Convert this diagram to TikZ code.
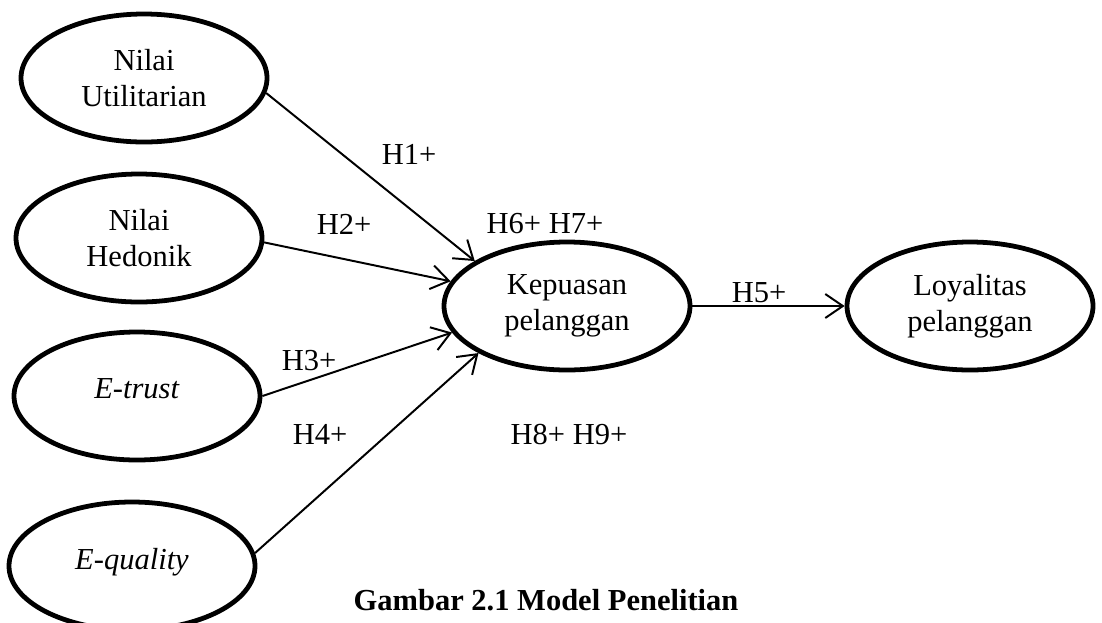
\documentclass[tikz,border=0pt]{standalone}
\usepackage{fontspec}
\setmainfont{Liberation Serif}
\usetikzlibrary{arrows.meta,shapes.geometric}

\begin{document}
\begin{tikzpicture}[
    construct/.style={ellipse, minimum width=6.15cm, minimum height=3.2cm, inner sep=0pt, align=center, draw=black, line width=3.4pt, font=\fontsize{21.7}{26}\selectfont},
    hyp/.style={inner sep=0pt, font=\fontsize{21.7}{26}\selectfont},
    arrow/.style={line width=1.4pt, -{Straight Barb[length=4.4mm,width=6mm]}}]

    \useasboundingbox (0,0) rectangle (27.55,-15.55);

    \node (util) [construct] at (3.6,-1.95) {Nilai\\Utilitarian};
    \node (hed) [construct] at (3.475,-5.95) {Nilai\\Hedonik};
    \node (etrust) [construct] at (3.425,-9.9) {\raisebox{10pt}{\textit{E-trust}}};
    \node (equal) [construct] at (3.3,-14.15) {\raisebox{10pt}{\textit{E-quality}}};
    \node (kep) [construct] at (14.175,-7.65) {Kepuasan\\pelanggan};
    \node (loy) [construct] at (24.25,-7.65) {Loyalitas\\pelanggan};

    \draw [arrow] (util.-7) -- (kep.154);
    \draw [arrow] (hed.-2) -- (kep.168);
    \draw [arrow] (etrust.0) -- (kep.193);
    \draw [arrow] (equal.6) -- (kep.208);
    \draw [arrow] (kep.east) -- (loy.west);

    \node (hone) [hyp] at (10.225,-3.85) {H1+};
    \node (htwo) [hyp] at (8.6,-5.6) {H2+};
    \node (hsix) [hyp] at (13.625,-5.6) {H6+ H7+};
    \node (hthree) [hyp] at (7.725,-9.025) {H3+};
    \node (hfour) [hyp] at (8.0,-10.85) {H4+};
    \node (height) [hyp] at (14.225,-10.85) {H8+ H9+};
    \node (hfive) [hyp] at (18.975,-7.325) {H5+};

    \node (caption) [hyp] at (13.65,-15.0) {\bfseries Gambar 2.1 Model Penelitian};

\end{tikzpicture}
\end{document}
